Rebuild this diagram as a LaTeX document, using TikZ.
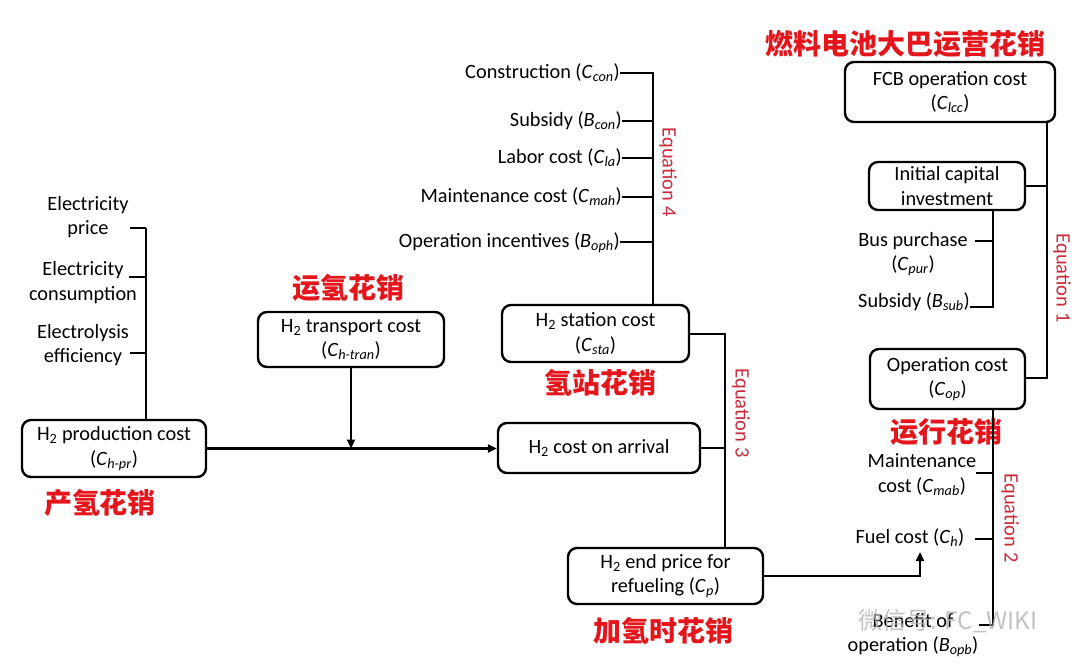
\documentclass[tikz,border=0pt]{standalone}
\usepackage{fontspec}
\setmainfont{Carlito}
\newfontfamily\cjk{Noto Sans CJK SC}
\usetikzlibrary{arrows.meta,calc}
\definecolor{redlab}{RGB}{228,22,28}
\definecolor{eqred}{RGB}{200,45,60}
\newcommand\vv[2]{\textit{#1}\textsubscript{\textit{#2}}}
\newcommand\Hh{H\textsubscript{2}}
\tikzset{
  box/.style={draw=black, line width=2.4pt, rounded corners=9pt, align=center, inner sep=0pt, font=\fontsize{20.3}{24.5}\selectfont},
  lab/.style={align=center, inner sep=0pt, font=\fontsize{20.3}{24.5}\selectfont},
  cn/.style={text=redlab, inner sep=0pt, font=\cjk\bfseries\fontsize{28}{28}\selectfont},
  eq/.style={text=eqred, inner sep=0pt, rotate=-90, font=\fontsize{20.5}{20}\selectfont},
  ln/.style={line width=2.4pt},
  arr/.style={line width=2.4pt, -{Triangle[length=9pt,width=8pt]}}
}
\begin{document}
\begin{tikzpicture}[x=1pt,y=-1pt]
\useasboundingbox (0,0) rectangle (1080,667);
\fill[white] (0,0) rectangle (1080,667);

% boxes
\node[box, minimum width=184pt, minimum height=57pt] (prod) at (114,448.5) {\Hh{} production cost\\(\vv{C}{h-pr})};
\node[box, minimum width=186pt, minimum height=55pt] (tran) at (351,339.5) {\Hh{} transport cost\\(\vv{C}{h-tran})};
\node[box, minimum width=187pt, minimum height=57pt] (sta) at (595.5,333.5) {\Hh{} station cost\\(\vv{C}{sta})};
\node[box, minimum width=202pt, minimum height=50pt] (arr) at (599,448) {\Hh{} cost on arrival};
\node[box, minimum width=195pt, minimum height=56pt] (endp) at (665.5,576) {\Hh{} end price for\\refueling (\vv{C}{p})};
\node[box, minimum width=210pt, minimum height=60pt] (fcb) at (950,92) {FCB operation cost\\(\vv{C}{lcc})};
\node[box, minimum width=156pt, minimum height=48pt] (ini) at (947,186) {Initial capital\\investment};
\node[box, minimum width=155pt, minimum height=60pt] (op) at (947.5,379) {Operation cost\\(\vv{C}{op})};

% red Chinese labels
\node[cn] (c1) at (100,503) {产氢花销};
\node[cn] (c2) at (348,288) {运氢花销};
\node[cn] (c3) at (600,383) {氢站花销};
\node[cn] (c4) at (663,631) {加氢时花销};
\node[cn] (c5) at (946,432) {运行花销};
\node[cn] (c6) at (905,44) {燃料电池大巴运营花销};

% equation labels
\node[eq] (e4) at (668,172) {Equation 4};
\node[eq] (e3) at (741,413) {Equation 3};
\node[eq] (e1) at (1062,278) {Equation 1};
\node[eq] (e2) at (1010,518) {Equation 2};

% left bracket labels
\node[lab] (l1) at (88,217) {Electricity\\price};
\node[lab] (l2) at (83,282.5) {Electricity\\consumption};
\node[lab] (l3) at (83,345) {Electrolysis\\efficiency};
\coordinate (l1a) at (130,228); \coordinate (l1b) at (146,228);
\coordinate (l2a) at (129,277); \coordinate (l2b) at (146,277);
\coordinate (l3a) at (130,353); \coordinate (l3b) at (146,353);
\draw[ln] (l1b) -- (l1b |- prod.north);
\draw[ln] (l1a) -- (l1b);
\draw[ln] (l2a) -- (l2b);
\draw[ln] (l3a) -- (l3b);

% equation 4 labels
\node[lab, anchor=east] (s1) at (620,73) {Construction (\vv{C}{con})};
\node[lab, anchor=east] (s2) at (622,121) {Subsidy (\vv{B}{con})};
\node[lab, anchor=east] (s3) at (622,158) {Labor cost (\vv{C}{la})};
\node[lab, anchor=east] (s4) at (622,197) {Maintenance cost (\vv{C}{mah})};
\node[lab, anchor=east] (s5) at (620,243) {Operation incentives (\vv{B}{oph})};
\coordinate (t1) at (653,73);
\coordinate (t2) at (653,121);
\coordinate (t3) at (653,158);
\coordinate (t4) at (653,197);
\coordinate (t5) at (653,242);
\draw[ln] (s1.east |- t1) -- (t1) -- (t1 |- sta.north);
\draw[ln] (s2.east |- t2) -- (t2);
\draw[ln] (s3.east |- t3) -- (t3);
\draw[ln] (s4.east |- t4) -- (t4);
\draw[ln] (s5.east |- t5) -- (t5);

% production -> arrival, transport arrow
\draw[arr] (prod.east) -- (prod.east -| arr.west);
\draw[arr] (tran.south) -- (tran.south |- prod.east);

% equation 3
\coordinate (q3) at (725,334);
\draw[ln] (sta.east |- q3) -- (q3) -- (q3 |- endp.north);
\draw[ln] (arr.east) -- (arr.east -| q3);

% end price -> fuel cost
\coordinate (fc) at (920,552);
\draw[arr] (endp.east) -| (fc);

% right labels, equation 2
\node[lab] (m1) at (922,474.5) {Maintenance\\cost (\vv{C}{mab})};
\node[lab] (m2) at (910,538) {Fuel cost (\vv{C}{h})};
\node[lab] (m3) at (913,635) {Benefit of\\operation (\vv{B}{opb})};
\coordinate (q2) at (993,625);
\coordinate (m1a) at (976,473); \coordinate (m2a) at (975,539);
\coordinate (m3a) at (979,625);
\draw[ln] (q2 |- op.south) -- (q2) -- (m3a);
\draw[ln] (m1a) -- (m1a -| q2);
\draw[ln] (m2a) -- (m2a -| q2);

% equation 1
\coordinate (q1) at (1047,378);
\draw[ln] (q1 |- fcb.south) -- (q1) -- (op.east |- q1);
\draw[ln] (ini.east) -- (ini.east -| q1);

% bus bracket
\node[lab] (b1) at (913,254) {Bus purchase\\(\vv{C}{pur})};
\node[lab] (b2) at (914,302) {Subsidy (\vv{B}{sub})};
\coordinate (qb) at (993,307);
\coordinate (b1a) at (975,241);
\draw[ln] (qb |- ini.south) -- (qb) -- (b2.east |- qb);
\draw[ln] (b1a) -- (b1a -| qb);

% watermark
\node[text=black!30, opacity=0.8, inner sep=0pt, font=\cjk\fontsize{24}{24}\selectfont] (wm) at (948,621) {微信号: FC\_WIKI};
\end{tikzpicture}
\end{document}
